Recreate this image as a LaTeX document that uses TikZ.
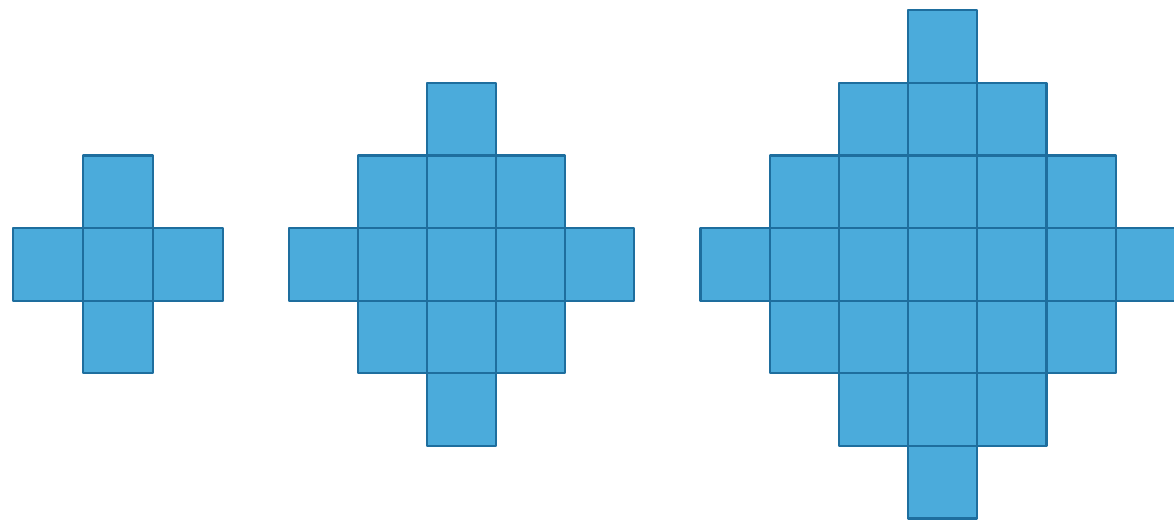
\documentclass[tikz,border=0pt]{standalone}
\definecolor{cellfill}{HTML}{4BABDB}
\definecolor{cellline}{HTML}{1E6E9E}
\tikzset{cell/.style={fill=cellfill,draw=cellline,line width=2.2pt,line join=round}}
\begin{document}
\begin{tikzpicture}[x=1pt,y=-1pt]
\useasboundingbox (0,0) rectangle (1174,519);
\clip (0,0) rectangle (1174,519);
\fill[white] (0,0) rectangle (1174,519);
% figure list: center col left x / cell width / radius
\foreach \cx/\w/\n in {83/70/1, 427/69/2, 908/69.2/3}{
  \foreach \i in {-\n,...,\n}{
    \foreach \j in {-\n,...,\n}{
      \pgfmathtruncatemacro\dd{abs(\i)+abs(\j)}
      \ifnum\dd>\n\relax\else
        \draw[cell] ({\cx+\i*\w},{228+\j*72.6}) rectangle ++(\w,72.6);
      \fi
    }
  }
}
\end{tikzpicture}
\end{document}
